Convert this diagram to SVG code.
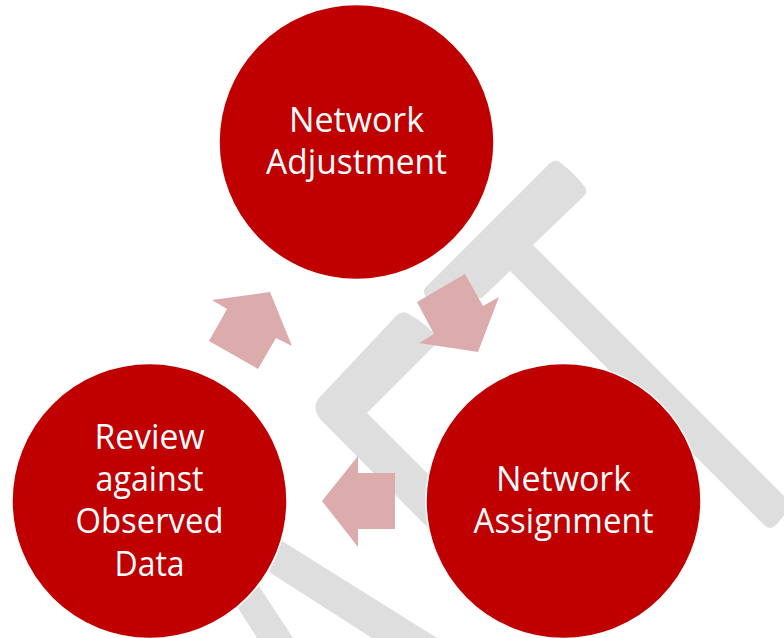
<svg xmlns="http://www.w3.org/2000/svg" width="784" height="638" viewBox="0 0 784 638">
<style>
.bar{fill:#dedede}
.arrow{fill:#dcabab}
.disc{fill:#c00000;stroke:#fff;stroke-width:1.5}
.lbl{font-family:"Open Sans","Liberation Sans",sans-serif;font-size:34px;fill:#fff;text-anchor:middle}
</style>
<rect width="784" height="638" fill="#fff"/>
<g id="background-shapes">
<path class="bar" d="M549 164Q555 158 561 163Q575 174 585 187Q588 192 584 196L533 245L788 500Q792 505 788 511L776 525Q770 531 764 525L510 271L482 298L430 301Q420 292 426 287Z"/>
<path class="bar" d="M397 315Q403 310 409 314Q428 325 440 340L367 413L440 486L430 530L321 420Q311 408 319 398Z"/>
<path class="bar" d="M282 541L437 638H372L269 572Z"/>
<path class="bar" d="M259 586L293 638H257L238 608Z"/>
</g>
<g id="connectors">
<polygon class="arrow" points="270,292 292,346 276,338 258,369 209,341 227,309 212,300"/>
<polygon class="arrow" points="465,274 483,306 499,297 478,352 419,343 434,334 417,302"/>
<polygon class="arrow" points="322,501 358,456 358,473 395,473 395,529 358,529 358,547"/>
</g>
<g id="network-adjustment">
<circle class="disc" cx="356.500" cy="142" r="137.500"/>
<text class="lbl" x="356.500" y="132" textLength="135" lengthAdjust="spacingAndGlyphs">Network</text>
<text class="lbl" x="356.500" y="174" textLength="181" lengthAdjust="spacingAndGlyphs">Adjustment</text>
</g>
<g id="network-assignment">
<circle class="disc" cx="563.500" cy="501" r="137.500"/>
<text class="lbl" x="563.500" y="491" textLength="135" lengthAdjust="spacingAndGlyphs">Network</text>
<text class="lbl" x="563.500" y="533" textLength="180" lengthAdjust="spacingAndGlyphs">Assignment</text>
</g>
<g id="review-against-observed-data">
<circle class="disc" cx="149.500" cy="501" r="137.500"/>
<text class="lbl" x="149.500" y="449" textLength="110" lengthAdjust="spacingAndGlyphs">Review</text>
<text class="lbl" x="149.500" y="491" textLength="108" lengthAdjust="spacingAndGlyphs">against</text>
<text class="lbl" x="149.500" y="533" textLength="148" lengthAdjust="spacingAndGlyphs">Observed</text>
<text class="lbl" x="149.500" y="576" textLength="70" lengthAdjust="spacingAndGlyphs">Data</text>
</g>
</svg>
